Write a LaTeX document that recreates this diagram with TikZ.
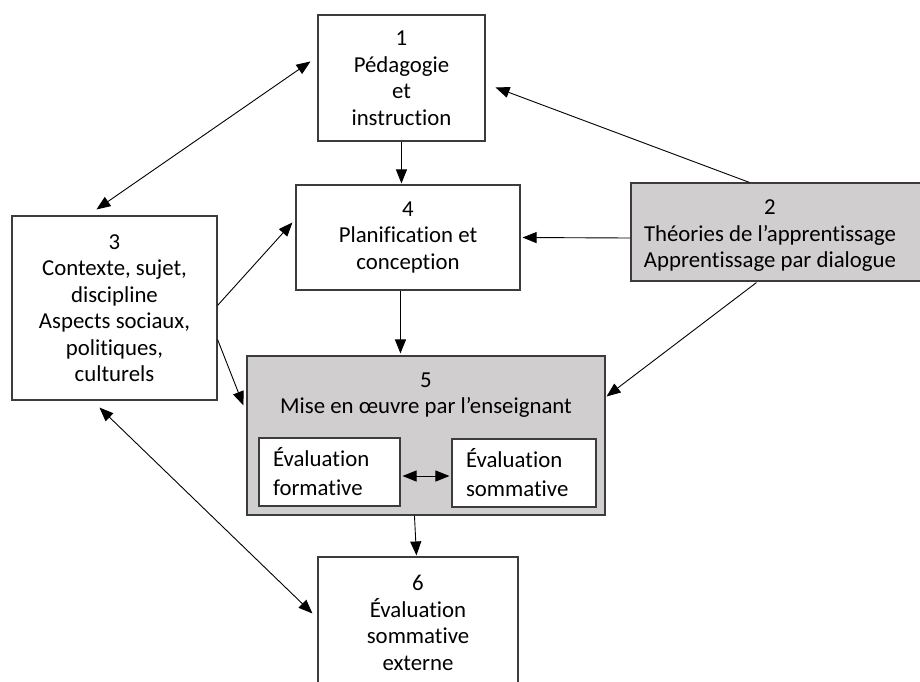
\documentclass[tikz,border=0pt]{standalone}
\usepackage{fontspec}
\setmainfont{Carlito}[Ligatures=NoCommon]
\usetikzlibrary{arrows.meta,calc}
\definecolor{boxgray}{RGB}{208,206,206}
\definecolor{edgegray}{RGB}{60,60,60}
\begin{document}
\begin{tikzpicture}[x=1pt,y=-1pt,
  box/.style={draw=edgegray, line width=1.1pt, inner sep=0pt, align=center,
    font=\fontsize{22.8}{26.5}\selectfont},
  graybox/.style={box, fill=boxgray},
  txt/.style={inner sep=0pt, align=center, font=\fontsize{22.8}{26.5}\selectfont},
  inbox/.style={draw=edgegray, line width=1.1pt, fill=white, inner ysep=0pt, inner xsep=14pt,
    align=left, minimum height=68pt, font=\fontsize{22.8}{29}\selectfont},
  arr/.style={-{Triangle[length=14pt,width=11pt]}, line width=0.9pt},
  darr/.style={{Triangle[length=14pt,width=11pt]}-{Triangle[length=14pt,width=11pt]}, line width=0.9pt}]
\useasboundingbox (0,0) rectangle (920,681);

% boxes
\node[box, minimum width=167pt, minimum height=126pt] (b1) at (401.5,78) {1\\Pédagogie\\et\\instruction};
\node[box, minimum width=224pt, minimum height=105pt] (b4) at (408,237.5) {4\\Planification et\\conception};
\node[graybox, minimum width=300pt, minimum height=98pt] (b2) at (781,232) {};
\node[txt] (b2t) at (770,236) {2\\Théories de l’apprentissage\\Apprentissage par dialogue};
\node[box, minimum width=205pt, minimum height=184pt] (b3) at (114.5,308) {3\\Contexte, sujet,\\discipline\\Aspects sociaux,\\politiques,\\culturels};
\node[graybox, minimum width=358pt, minimum height=159pt] (b5) at (426,435.5) {};
\node[txt] (b5t) at (426,395) {5\\Mise en œuvre par l’enseignant};
\node[inbox, text width=113pt] (f) at (329.5,472) {Évaluation\\formative};
\node[inbox, text width=116pt] (s) at (524,473) {Évaluation\\sommative};
\node[box, minimum width=200pt, minimum height=132pt] (b6) at (418,623) {6\\Évaluation\\sommative\\externe};

% connectors
\draw[darr] ($(b3.north west)+(85,-6)$) -- ($(b1.north west)+(-7,47)$);
\draw[arr] ($(b1.south west)+(84,0)$) -- ($(b4.north west)+(106,-1)$);
\draw[arr] ($(b2.north west)+(119,0)$) -- ($(b1.north east)+(10,73)$);
\draw[arr] ($(b2.west)+(0,6)$) -- ($(b4.east)+(2,0)$);
\draw[arr] ($(b2.south west)+(126,1)$) -- ($(b5.north east)+(1,41)$);
\draw[arr] ($(b3.north east)+(0,90)$) -- ($(b4.north west)+(-3,38)$);
\draw[arr] ($(b3.north east)+(0,124)$) -- ($(b5.north west)+(-3,50)$);
\draw[arr] ($(b4.south west)+(105,0)$) -- ($(b5.north west)+(154,-2)$);
\draw[arr] ($(b5.south west)+(168,0)$) -- ($(b6.north west)+(99,-1)$);
\draw[darr] ($(b3.south west)+(88,7)$) -- ($(b6.north west)+(-5,57)$);
\draw[darr] ($(f.east)+(2,4)$) -- ($(s.west)+(-2,3)$);
\end{tikzpicture}
\end{document}
